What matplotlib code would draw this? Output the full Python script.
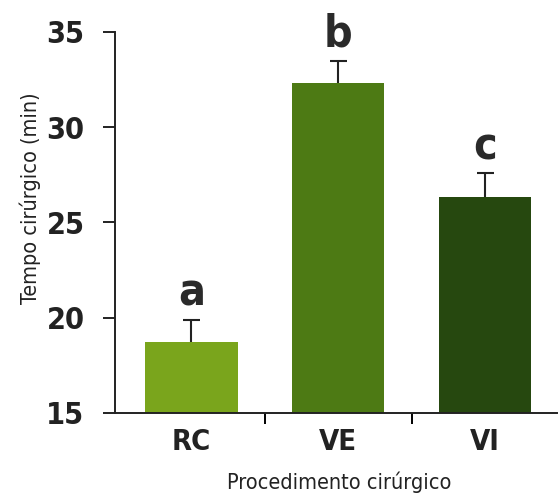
import matplotlib
matplotlib.use('Agg')
import matplotlib.pyplot as plt

plt.rcParams['font.family'] = ['DejaVu Sans']
plt.rcParams['font.stretch'] = 'condensed'

# data
categories = ['RC', 'VE', 'VI']
means = [18.7, 32.3, 26.35]
errors = [1.2, 1.2, 1.25]
letters = ['a', 'b', 'c']
colors = ['#7aa51c', '#4d7a14', '#26480f']

fig = plt.figure(figsize=(5.59, 4.95), dpi=100)
ax = fig.add_axes([0.2057, 0.1657, 0.7907, 0.7697])

x = list(range(len(categories)))
tops = [m + e for m, e in zip(means, errors)]
ax.bar(x, [m - 15 for m in means], bottom=15, width=0.63, color=colors)
# only the upper half of the error bars
ax.vlines(x, means, tops, color='#222222', lw=1.5)
ax.hlines(tops, [i - 0.058 for i in x], [i + 0.058 for i in x], color='#222222', lw=1.5)

for i in x:
    ax.text(i, tops[i] + 0.25, letters[i], ha='center', va='bottom',
            fontsize=32, fontweight='bold', color='#2a2a2a', clip_on=False)

ax.set_ylim(15, 35)
ax.set_xlim(-0.52, 2.49)
ax.set_yticks([15, 20, 25, 30, 35])
ax.tick_params(axis='y', direction='out', length=9, width=1.4, pad=13,
               labelsize=22, colors='#222222')
for lab in ax.get_yticklabels():
    lab.set_fontweight('bold')

# separators between groups as major ticks, names as minor ticks
ax.set_xticks([0.5, 1.5])
ax.set_xticklabels([])
ax.tick_params(axis='x', which='major', direction='out', length=8, width=1.4)
ax.set_xticks(x, minor=True)
ax.set_xticklabels(categories, minor=True, fontsize=21, fontweight='bold', color='#222222')
ax.tick_params(axis='x', which='minor', length=0, pad=11)

for s in ['top', 'right']:
    ax.spines[s].set_visible(False)
for s in ['left', 'bottom']:
    ax.spines[s].set_linewidth(1.4)
    ax.spines[s].set_color('#222222')

fig.text(0.054, 0.6, 'Tempo cirúrgico (min)', rotation=90, ha='center', va='center',
         fontsize=15.5, color='#222222')
fig.text(0.606, 0.025, 'Procedimento cirúrgico', ha='center', va='center',
         fontsize=15.5, color='#222222')

plt.savefig('out.png', dpi=100)
